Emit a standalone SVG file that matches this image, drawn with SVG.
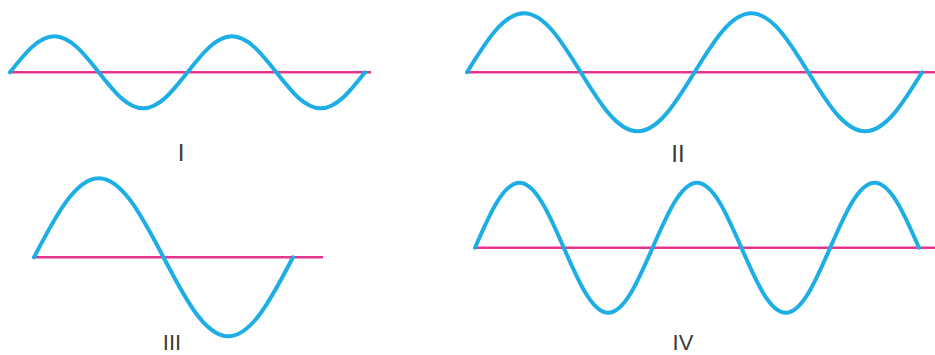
<svg xmlns="http://www.w3.org/2000/svg" width="935" height="355" viewBox="0 0 935 355">
<style>
.axis{stroke:#e5348f;stroke-width:2.5;fill:none}
.wave{stroke:#1eaee6;stroke-width:4;fill:none;stroke-linecap:round;stroke-linejoin:round}
.lbl{font-family:"Liberation Sans",Arial,sans-serif;font-size:24px;fill:#3a3a3a;text-anchor:middle}
.lbl2{font-size:22px}
</style>
<rect width="935" height="355" fill="#ffffff"/>
<g id="wave-I">
<line class="axis" x1="10" y1="72.3" x2="371" y2="72.3"/>
<path class="wave" d="M10,72.3
c14.47,-18.44 28.32,-36 44.38,-36 c16.06,0 29.90,17.56 44.38,36
c14.47,18.44 28.32,36 44.38,36 c16.06,0 29.90,-17.56 44.38,-36
c14.47,-18.44 28.32,-36 44.38,-36 c16.06,0 29.90,17.56 44.38,36
c14.47,18.44 28.32,36 44.38,36 c16.06,0 29.90,-17.56 44.38,-36"/>
<text class="lbl" x="181" y="161">I</text>
</g>
<g id="wave-II">
<line class="axis" x1="467" y1="72.3" x2="935" y2="72.3"/>
<path class="wave" d="M467,72.3
c18.55,-30.23 36.29,-59 56.88,-59 c20.58,0 38.33,28.77 56.88,59
c18.55,30.23 36.29,59 56.88,59 c20.58,0 38.33,-28.77 56.88,-59
c18.55,-30.23 36.29,-59 56.88,-59 c20.58,0 38.33,28.77 56.88,59
c18.55,30.23 36.29,59 56.88,59 c20.58,0 38.33,-28.77 56.88,-59"/>
<text class="lbl" x="678" y="162">II</text>
</g>
<g id="wave-III">
<line class="axis" x1="34" y1="257.3" x2="323" y2="257.3"/>
<path class="wave" d="M34,257.3
c21.12,-40.47 41.32,-79 64.75,-79 c23.43,0 43.63,38.53 64.75,79
c21.12,40.47 41.32,79 64.75,79 c23.43,0 43.63,-38.53 64.75,-79"/>
<text class="lbl lbl2" x="172" y="350">III</text>
</g>
<g id="wave-IV">
<line class="axis" x1="475" y1="247.7" x2="935" y2="247.7"/>
<path class="wave" d="M475,247.7
c14.48,-33.30 28.33,-65 44.4,-65 c16.07,0 29.92,31.70 44.4,65
c14.48,33.30 28.33,65 44.4,65 c16.07,0 29.92,-31.70 44.4,-65
c14.48,-33.30 28.33,-65 44.4,-65 c16.07,0 29.92,31.70 44.4,65
c14.48,33.30 28.33,65 44.4,65 c16.07,0 29.92,-31.70 44.4,-65
c14.48,-33.30 28.33,-65 44.4,-65 c16.07,0 29.92,31.70 44.4,65"/>
<text class="lbl lbl2" x="683" y="350">IV</text>
</g>
</svg>
